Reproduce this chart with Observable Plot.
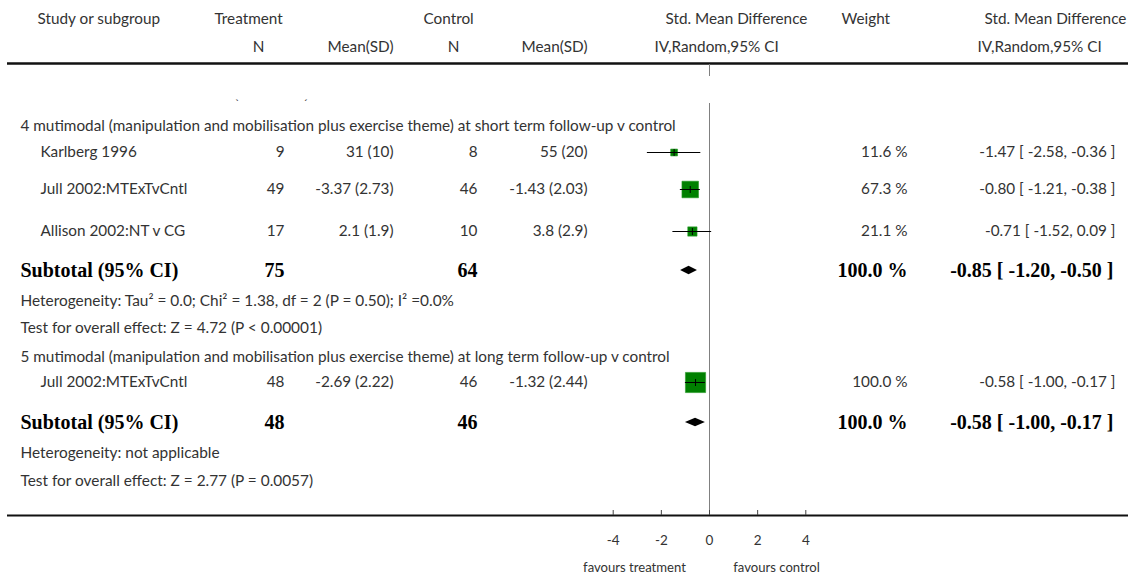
<!DOCTYPE html>
<html>
<head>
<meta charset="utf-8">
<script src="https://cdn.jsdelivr.net/npm/d3@7"></script>
<script src="https://cdn.jsdelivr.net/npm/@observablehq/plot@0.6"></script>
<style>
  html, body { margin: 0; padding: 0; background: #fff; }
  #chart svg { display: block; }
</style>
</head>
<body>
<div id="chart"></div>
<script>
// ---------------- DATA ----------------
const groupTitles = [
  "4 mutimodal (manipulation and mobilisation plus exercise theme) at short term follow-up v control",
  "5 mutimodal (manipulation and mobilisation plus exercise theme) at long term follow-up v control"
];
const studyNames   = ["Karlberg 1996", "Jull 2002:MTExTvCntl", "Allison 2002:NT v CG", "Jull 2002:MTExTvCntl"];
const studyGroup   = [0, 0, 0, 1];
const treatN       = [9, 49, 17, 48];
const treatMeanSD  = ["31 (10)", "-3.37 (2.73)", "2.1 (1.9)", "-2.69 (2.22)"];
const ctrlN        = [8, 46, 10, 46];
const ctrlMeanSD   = ["55 (20)", "-1.43 (2.03)", "3.8 (2.9)", "-1.32 (2.44)"];
const smd          = [-1.47, -0.80, -0.71, -0.58];
const smdLo        = [-2.58, -1.21, -1.52, -1.00];
const smdHi        = [-0.36, -0.38, 0.09, -0.17];
const weightPct    = [11.6, 67.3, 21.1, 100.0];

const subTreatN    = [75, 48];
const subCtrlN     = [64, 46];
const subSmd       = [-0.85, -0.58];
const subLo        = [-1.20, -1.00];
const subHi        = [-0.50, -0.17];
const subWeight    = [100.0, 100.0];
const heterogeneity = [
  "Heterogeneity: Tau² = 0.0; Chi² = 1.38, df = 2 (P = 0.50); I² =0.0%",
  "Heterogeneity: not applicable"
];
const overallEffect = [
  "Test for overall effect: Z = 4.72 (P < 0.00001)",
  "Test for overall effect: Z = 2.77 (P = 0.0057)"
];
const xTicks = [-4, -2, 0, 2, 4];
const favourLabels = ["favours treatment", "favours control"];

// ---------------- LAYOUT (pixels) ----------------
const W = 1133, H = 577;
const L = {
  header1: 19, header2: 47, headerRule: 63,
  zeroSegments: [[64, 76], [103, 515]],
  axisRule: 515, tickLen: 5, tickLabel: 540, favours: 567,
  groupY: [126, 357],
  studyY: [152, 189, 231, 382],
  subY: [270, 422],
  hetY: [301, 453],
  testY: [328, 481],
  col: {title: 20, name: 40, tN: 284, tM: 393, cN: 477, cM: 587, wt: 907, ci: 1115},
  favoursX: [634, 776]
};
const SANS = "Lato, 'Open Sans', sans-serif";
const SERIF = "'Liberation Serif', 'DejaVu Serif', serif";
const INK = "#333";
const FS = 15.3;
const FS_BOLD = 20;

const f2 = v => v.toFixed(2);
const f1 = v => v.toFixed(1);

const studies = studyNames.map((name, i) => ({
  name, group: studyGroup[i], tN: treatN[i], tM: treatMeanSD[i], cN: ctrlN[i], cM: ctrlMeanSD[i],
  est: smd[i], lo: smdLo[i], hi: smdHi[i], w: weightPct[i], y: L.studyY[i],
  wText: f1(weightPct[i]) + " %",
  ciText: `${f2(smd[i])} [ ${f2(smdLo[i])}, ${f2(smdHi[i])} ]`
}));
const subtotals = subSmd.map((est, i) => ({
  est, lo: subLo[i], hi: subHi[i], tN: subTreatN[i], cN: subCtrlN[i], y: L.subY[i],
  wText: f1(subWeight[i]) + " %",
  ciText: `${f2(est)} [ ${f2(subLo[i])}, ${f2(subHi[i])} ]`
}));
const diamondH = 4.3;
const diamonds = subtotals.flatMap((s, i) => [
  {z: i, y: s.y - diamondH, x1: s.est, x2: s.est},
  {z: i, y: s.y, x1: s.lo, x2: s.hi},
  {z: i, y: s.y + diamondH, x1: s.est, x2: s.est}
]);
const groups = groupTitles.map((t, i) => ({t, y: L.groupY[i]}));
const hets = heterogeneity.map((t, i) => ({t, y: L.hetY[i]}));
const tests = overallEffect.map((t, i) => ({t, y: L.testY[i]}));

const headerTop = [
  {t: "Study or subgroup", x: 37, a: "start"},
  {t: "Treatment", x: 214, a: "start"},
  {t: "Control", x: 423, a: "start"},
  {t: "Std. Mean Difference", x: 665, a: "start"},
  {t: "Weight", x: 841, a: "start"},
  {t: "Std. Mean Difference", x: 984, a: "start"}
];
const headerBottom = [
  {t: "N", x: 258, a: "middle"},
  {t: "Mean(SD)", x: 393, a: "end"},
  {t: "N", x: 453, a: "middle"},
  {t: "Mean(SD)", x: 587, a: "end"},
  {t: "IV,Random,95% CI", x: 654, a: "start"},
  {t: "IV,Random,95% CI", x: 977, a: "start"}
];

// text helper: column placed by frame offset
function col(data, text, dx, anchor, opts = {}) {
  return Plot.text(data, {
    y: "y", text, frameAnchor: "left", dx, textAnchor: anchor, lineAnchor: "middle",
    fill: INK, fontFamily: SANS, fontSize: FS, ...opts
  });
}
const bold = {fontFamily: SERIF, fontWeight: "bold", fontSize: FS_BOLD, fill: "#000"};

const marks = [
  // header texts
  ...headerTop.map(h => Plot.text([h], {y: () => L.header1, text: "t", frameAnchor: "left", dx: h.x, textAnchor: h.a, lineAnchor: "middle", fill: INK, fontFamily: SANS, fontSize: FS})),
  ...headerBottom.map(h => Plot.text([h], {y: () => L.header2, text: "t", frameAnchor: "left", dx: h.x, textAnchor: h.a, lineAnchor: "middle", fill: INK, fontFamily: SANS, fontSize: FS})),
  // rules
  Plot.ruleY([L.headerRule], {stroke: "#111", strokeWidth: 2.6, insetLeft: 7, insetRight: 5}),
  Plot.ruleY([L.axisRule], {stroke: "#111", strokeWidth: 2, insetLeft: 7, insetRight: 5}),
  ...L.zeroSegments.map(([a, b]) => Plot.ruleX([0], {y1: a, y2: b, stroke: "#808080", strokeWidth: 1})),
  // small stray glyphs in the reference
  Plot.text([{t: "ˋ", y: 104}], {y: "y", text: "t", frameAnchor: "left", dx: 237, textAnchor: "middle", fill: INK, fontFamily: SANS, fontSize: 12}),
  Plot.text([{t: "ˊ", y: 104}], {y: "y", text: "t", frameAnchor: "left", dx: 305, textAnchor: "middle", fill: INK, fontFamily: SANS, fontSize: 12}),
  // axis ticks & labels
  Plot.ruleX(xTicks, {x: d => d, y1: L.axisRule - L.tickLen, y2: L.axisRule, stroke: "#444", strokeWidth: 1}),
  Plot.text(xTicks, {x: d => d, y: () => L.tickLabel, text: d => String(d), fill: INK, fontFamily: SANS, fontSize: 13.5, lineAnchor: "middle"}),
  ...favourLabels.map((t, i) => Plot.text([t], {y: () => L.favours, text: d => d, frameAnchor: "left", dx: L.favoursX[i], textAnchor: "middle", lineAnchor: "middle", fill: INK, fontFamily: SANS, fontSize: 13.1})),
  // group titles & notes
  col(groups, "t", L.col.title, "start"),
  col(hets, "t", L.col.title, "start", {fontSize: 15.4}),
  col(tests, "t", L.col.title, "start", {fontSize: 15.4}),
  // studies
  col(studies, "name", L.col.name, "start"),
  col(studies, d => String(d.tN), L.col.tN, "end"),
  col(studies, "tM", L.col.tM, "end"),
  col(studies, d => String(d.cN), L.col.cN, "end"),
  col(studies, "cM", L.col.cM, "end"),
  col(studies, "wText", L.col.wt, "end"),
  col(studies, "ciText", L.col.ci, "end"),
  // subtotals (bold serif)
  col(subtotals, () => "Subtotal (95% CI)", L.col.title, "start", bold),
  col(subtotals, d => String(d.tN), L.col.tN, "end", bold),
  col(subtotals, d => String(d.cN), L.col.cN, "end", bold),
  col(subtotals, "wText", L.col.wt, "end", bold),
  col(subtotals, "ciText", L.col.ci - 2, "end", bold),
  // forest marks
  Plot.dot(studies, {x: "est", y: "y", r: "w", symbol: "square", fill: "#008000", stroke: "#2a9a2a", strokeWidth: 0.6}),
  Plot.ruleY(studies, {x1: "lo", x2: "hi", y: "y", stroke: "#000", strokeWidth: 1}),
  Plot.dot(studies, {x: "est", y: "y", r: 2.4, symbol: "plus", stroke: "#000", strokeWidth: 1, fill: "none"}),
  Plot.areaX(diamonds, {x1: "x1", x2: "x2", y: "y", z: "z", fill: "#000", curve: "linear"})
];

const chart = Plot.plot({
  width: W, height: H,
  margin: 0,
  style: {background: "#fff", overflow: "visible"},
  x: {domain: [-4, 4], range: [612.7, 805.3], axis: null},
  y: {domain: [0, H], range: [0, H], axis: null},
  r: {type: "sqrt", domain: [0, 100], range: [0, 11.4]},
  marks
});
document.getElementById("chart").appendChild(chart);
</script>
</body>
</html>
